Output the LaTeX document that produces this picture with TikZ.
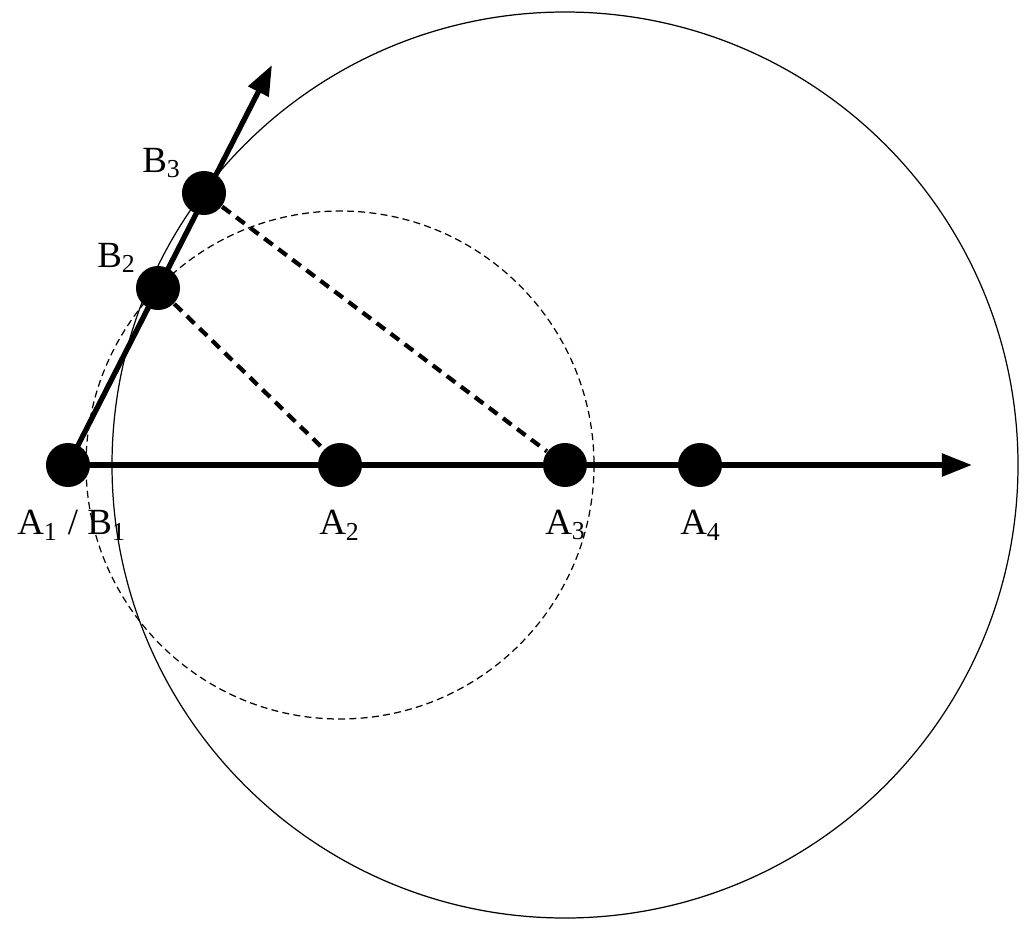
\documentclass[tikz,border=0pt]{standalone}
\usepackage{fontspec}
\setmainfont{Liberation Serif}
\usetikzlibrary{arrows.meta}
\begin{document}
\begin{tikzpicture}[x=0.01cm,y=-0.01cm,
  dot/.style={circle,fill=black,minimum size=0.44cm,inner sep=0pt},
  lab/.style={font=\fontsize{10.5}{12}\selectfont,inner sep=0pt},
  axis/.style={line width=1.5pt,-{Triangle[length=0.3cm,width=0.22cm]}},
  conn/.style={dashed,line width=1.2pt,dash pattern=on 3pt off 2pt}]
\useasboundingbox (0,0) rectangle (1024,924);
\node[dot] (A1) at (68,465) {};
\node[dot] (A2) at (340,465) {};
\node[dot] (A3) at (565,465) {};
\node[dot] (A4) at (700,465) {};
\node[dot] (B2) at (158,288) {};
\node[dot] (B3) at (204,193) {};
\coordinate (X) at (972,465);
\coordinate (Y) at (272,65);
\draw[line width=0.35pt] (565,465) circle (453);
\draw[line width=0.35pt,dashed,dash pattern=on 2pt off 1.2pt] (340,465) circle (254);
\draw[axis] (A1.center) -- (X);
\draw[axis] (A1.center) -- (Y);
\draw[conn] (B2) -- (A2);
\draw[conn] (B3) -- (A3);
\node[lab] (lA1) at (72,525) {A\textsubscript{1} / B\textsubscript{1}};
\node[lab] (lA2) at (340,525) {A\textsubscript{2}};
\node[lab] (lA3) at (566,525) {A\textsubscript{3}};
\node[lab] (lA4) at (701,525) {A\textsubscript{4}};
\node[lab] (lB2) at (117,258) {B\textsubscript{2}};
\node[lab] (lB3) at (162,163) {B\textsubscript{3}};
\end{tikzpicture}
\end{document}
